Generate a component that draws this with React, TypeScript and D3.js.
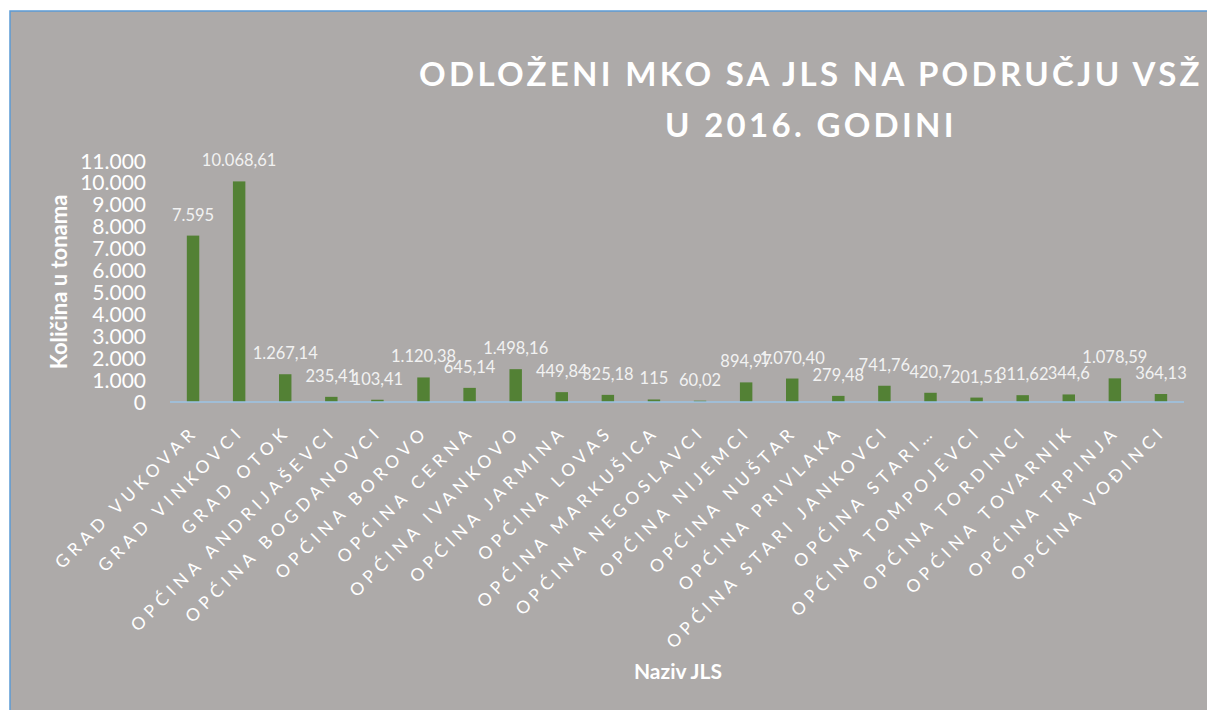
import React from "react";
import * as d3 from "d3";

const categories = [
  "GRAD VUKOVAR", "GRAD VINKOVCI", "GRAD OTOK", "OPĆINA ANDRIJAŠEVCI", "OPĆINA BOGDANOVCI",
  "OPĆINA BOROVO", "OPĆINA CERNA", "OPĆINA IVANKOVO", "OPĆINA JARMINA", "OPĆINA LOVAS",
  "OPĆINA MARKUŠICA", "OPĆINA NEGOSLAVCI", "OPĆINA NIJEMCI", "OPĆINA NUŠTAR", "OPĆINA PRIVLAKA",
  "OPĆINA STARI JANKOVCI", "OPĆINA STARI…", "OPĆINA TOMPOJEVCI", "OPĆINA TORDINCI",
  "OPĆINA TOVARNIK", "OPĆINA TRPINJA", "OPĆINA VOĐINCI",
];
const values = [
  7595, 10068.61, 1267.14, 235.41, 103.41, 1120.38, 645.14, 1498.16, 449.84, 325.18,
  115, 60.02, 894.97, 1070.4, 279.48, 741.76, 420.7, 201.51, 311.62, 344.6, 1078.59, 364.13,
];
const valueLabels = [
  "7.595", "10.068,61", "1.267,14", "235,41", "103,41", "1.120,38", "645,14", "1.498,16",
  "449,84", "325,18", "115", "60,02", "894,97", "1.070,40", "279,48", "741,76", "420,7",
  "201,51", "311,62", "344,6", "1.078,59", "364,13",
];
const yTicks = [0, 1000, 2000, 3000, 4000, 5000, 6000, 7000, 8000, 9000, 10000, 11000];
const titleLines = ["ODLOŽENI MKO SA JLS NA PODRUČJU VSŽ", "U 2016. GODINI"];
const yTitle = "Količina u tonama";
const xTitle = "Naziv JLS";

const W = 1207;
const H = 710;
const FONT = "Lato, 'Open Sans', sans-serif";

const locale = d3.formatLocale({ decimal: ",", thousands: ".", grouping: [3], currency: ["", ""] });
const fmt = locale.format(",d");

export default function App() {
  const x = d3.scaleBand<string>().domain(categories).range([170, 1184]).padding(0);
  const y = d3.scaleLinear().domain([0, 11000]).range([402, 161]);
  const barW = x.bandwidth() * 0.27;

  return (
    <svg width={W} height={H} style={{ position: "absolute", left: 0, top: 0, background: "#fff" }}>
      <rect x={10} y={11} width={W} height={H} fill="#ADAAA9" stroke="#5B9BD5" strokeWidth={1.5} />
      {titleLines.map((t, i) => (
        <text
          key={i}
          x={811}
          y={i === 0 ? 86 : 137}
          textAnchor="middle"
          fill="#fff"
          fontFamily={FONT}
          fontWeight="bold"
          fontSize={33}
          letterSpacing={3.3}
        >
          {t}
        </text>
      ))}
      {yTicks.map((t) => (
        <text
          key={t}
          x={146}
          y={y(t)}
          dy="0.36em"
          textAnchor="end"
          fill="#fff"
          fontFamily={FONT}
          fontSize={21}
        >
          {fmt(t)}
        </text>
      ))}
      <text
        transform={`translate(67,282) rotate(-90)`}
        textAnchor="middle"
        fill="#fff"
        fontFamily={FONT}
        fontWeight="bold"
        fontSize={22}
      >
        {yTitle}
      </text>
      {categories.map((c, i) => {
        const cx = (x(c) as number) + x.bandwidth() / 2;
        return (
          <g key={c}>
            <rect x={cx - barW / 2} y={y(values[i])} width={barW} height={y(0) - y(values[i])} fill="#538135" />
            <text
              x={cx}
              y={y(values[i]) - 15}
              textAnchor="middle"
              fill="#F2F2F2"
              fontFamily={FONT}
              fontSize={16.5}
            >
              {valueLabels[i]}
            </text>
            <text
              transform={`translate(${cx + 6},${433}) rotate(-45)`}
              textAnchor="end"
              fill="#fff"
              fontFamily={FONT}
              fontSize={17.5}
              letterSpacing={4.8}
            >
              {c}
            </text>
          </g>
        );
      })}
      <line x1={170} x2={1184} y1={y(0)} y2={y(0)} stroke="#9DC3E6" strokeWidth={1.3} />
      <text x={678} y={679} textAnchor="middle" fill="#fff" fontFamily={FONT} fontWeight="bold" fontSize={21}>
        {xTitle}
      </text>
    </svg>
  );
}
